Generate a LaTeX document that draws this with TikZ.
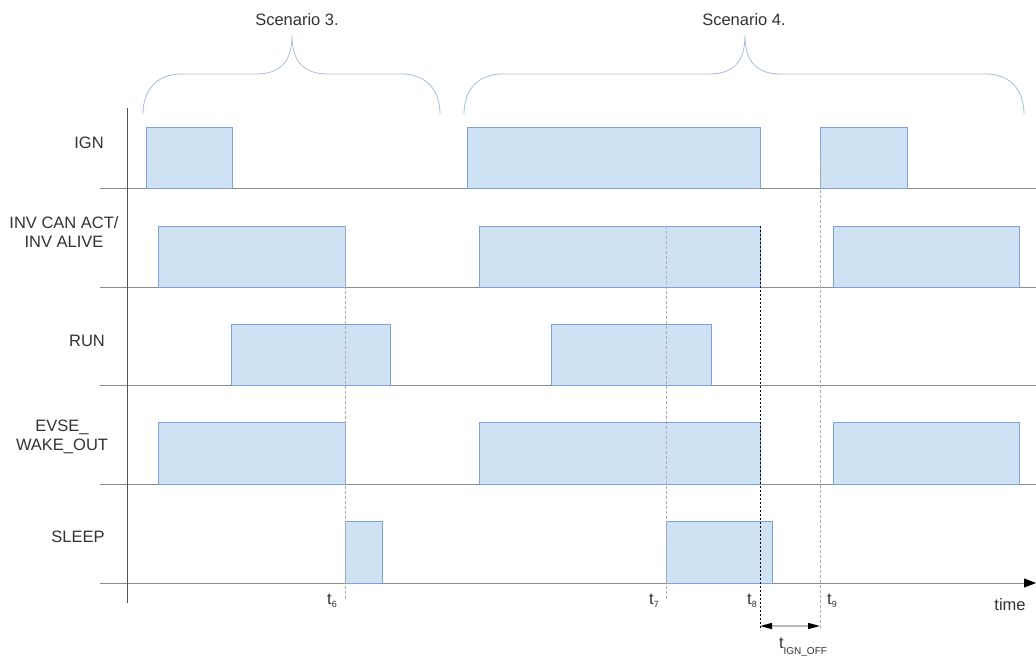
\documentclass[tikz,border=0pt]{standalone}
\usepackage{fontspec}
\setmainfont{Liberation Sans}
\usetikzlibrary{arrows.meta}
\definecolor{pfill}{HTML}{CFE2F3}
\definecolor{pedge}{HTML}{7FA3D6}
\definecolor{axisc}{HTML}{8C8C8C}
\definecolor{vaxisc}{HTML}{555555}
\definecolor{bracec}{HTML}{A9BEDB}
\definecolor{txt}{HTML}{333333}
\definecolor{dashc}{HTML}{AEAEAE}
\newcommand\sigpulse[4]{\path[pulse] (#1,#4) rectangle (#2,#3);}
\newcommand\scbrace[3]{%
  \draw[brace] (#1,114) .. controls (#1,90) and (#1+14,74) .. (#1+38,74)
    -- (#2-36,74) .. controls (#2-10,74) and (#2,60) .. (#2,35)
    .. controls (#2,60) and (#2+10,74) .. (#2+36,74)
    -- (#3-38,74) .. controls (#3-14,74) and (#3,90) .. (#3,114);}
\newcommand\tsub[1]{t\raisebox{-3.5pt}{\fontsize{9}{9}\selectfont #1}}
\begin{document}
\begin{tikzpicture}[x=1pt,y=-1pt,
  font=\fontsize{16.5}{19}\selectfont,
  pulse/.style={fill=pfill,draw=pedge,line width=0.8pt},
  baseln/.style={draw=axisc,line width=0.9pt},
  vaxis/.style={draw=vaxisc,line width=1pt},
  brace/.style={draw=bracec,line width=0.8pt},
  guide/.style={draw=dashc,line width=0.9pt,dash pattern=on 3pt off 2pt},
  guideblk/.style={draw=black,line width=0.9pt,dash pattern=on 2pt off 2pt},
  lbl/.style={text=txt,inner sep=0pt,align=center},
  tlbl/.style={text=txt,inner sep=0pt,anchor=base}]
\useasboundingbox (0,0) rectangle (1036,659);
\fill[white] (0,0) rectangle (1036,659);

% braces and scenario titles
\scbrace{143}{292}{440}
\scbrace{464}{745}{1024}
\node[tlbl] (sc3) at (297,25) {Scenario 3.};
\node[tlbl] (sc4) at (744,25) {Scenario 4.};

% baselines
\foreach \yy in {188,287,385,484} \draw[baseln] (100,\yy) -- (1036,\yy);
\coordinate (tstart) at (100,583);
\coordinate (tend) at (1036,583);
\draw[baseln,-{Triangle[length=12pt,width=9pt,color=black]}] (tstart) -- (tend);
\draw[vaxis] (127,108) -- (127,603);

% IGN
\sigpulse{146}{232}{127}{188}
\sigpulse{467}{760}{127}{188}
\sigpulse{820}{907}{127}{188}
% INV CAN ACT / INV ALIVE
\sigpulse{158}{345}{226}{287}
\sigpulse{479}{760}{226}{287}
\sigpulse{833}{1019}{226}{287}
% RUN
\sigpulse{231}{390}{324}{385}
\sigpulse{551}{711}{324}{385}
% EVSE_WAKE_OUT
\sigpulse{158}{345}{422}{484}
\sigpulse{479}{760}{422}{484}
\sigpulse{833}{1019}{422}{484}
% SLEEP
\sigpulse{345}{382}{521}{583}
\sigpulse{666}{772}{521}{583}

% guide lines
\draw[guide] (345,226) -- (345,600);
\draw[guide] (666,226) -- (666,600);
\draw[guide] (820,150) -- (820,630);
\draw[guideblk] (760,226) -- (760,630);

% t_IGN_OFF arrow
\coordinate (ga) at (760,626);
\coordinate (gb) at (820,626);
\draw[draw=axisc!60,line width=1.6pt,
  {Triangle[length=12pt,width=6pt,color=black]}-{Triangle[length=12pt,width=6pt,color=black]}] (ga) -- (gb);

% signal labels
\node[lbl,anchor=base] (lign) at (89,148) {IGN};
\node[lbl,anchor=north] (linv) at (64,216.5) {INV CAN ACT/\\INV ALIVE};
\node[lbl,anchor=base] (lrun) at (87,346) {RUN};
\node[lbl,anchor=north] (levse) at (62,419.5) {EVSE\_\\WAKE\_OUT};
\node[lbl,anchor=base] (lsleep) at (78,542) {SLEEP};

% time labels
\node[tlbl] (t6) at (332,604) {\tsub{6}};
\node[tlbl] (t7) at (654,604) {\tsub{7}};
\node[tlbl] (t8) at (752,604) {\tsub{8}};
\node[tlbl] (t9) at (832,604) {\tsub{9}};
\node[tlbl] (ltime) at (1010,610) {time};
\node[tlbl] (tign) at (803,648) {t\raisebox{-6pt}{\fontsize{10}{10}\selectfont IGN\_OFF}};
\end{tikzpicture}
\end{document}
